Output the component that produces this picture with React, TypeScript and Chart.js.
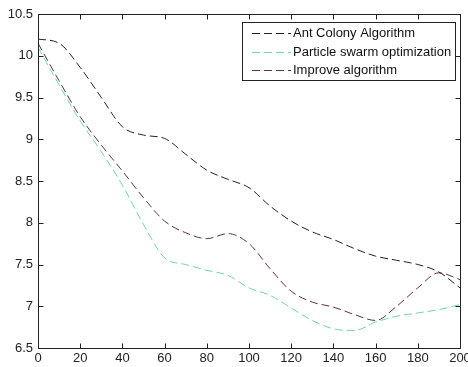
import React, { useEffect, useRef } from "react";
import { Chart, registerables } from "chart.js";

Chart.register(...registerables);

const xValues = [0, 10, 20, 30, 40, 50, 60, 70, 80, 90, 100, 110, 120, 130, 140, 150, 160, 170, 180, 190, 200];
const antColony = [10.2, 10.15, 9.86, 9.5, 9.15, 9.05, 9.01, 8.82, 8.63, 8.52, 8.42, 8.2, 8.02, 7.89, 7.8, 7.69, 7.6, 7.55, 7.5, 7.41, 7.22];
const pso = [10.1, 9.65, 9.22, 8.85, 8.45, 7.98, 7.58, 7.5, 7.43, 7.37, 7.22, 7.13, 6.98, 6.83, 6.73, 6.71, 6.81, 6.88, 6.92, 6.96, 7.02];
const improve = [10.15, 9.7, 9.27, 8.93, 8.62, 8.3, 8.02, 7.88, 7.81, 7.87, 7.75, 7.45, 7.18, 7.05, 6.99, 6.9, 6.83, 7.0, 7.22, 7.4, 7.32];
const seriesLabels = ["Ant Colony Algorithm", "Particle swarm optimization", "Improve algorithm"];
const seriesColors = ["#222222", "#6fd89a", "#603040"];
const xTickStep = 20;
const yTickStep = 0.5;

const FONT = "'Liberation Sans', Arial, Helvetica, sans-serif";

const frameTicks = {
  id: "frameTicks",
  afterDraw(chart: any) {
    const { ctx, chartArea } = chart;
    const { left, right, top, bottom } = chartArea;
    const xs = chart.scales.x;
    const ys = chart.scales.y;
    ctx.save();
    ctx.strokeStyle = "#222";
    ctx.lineWidth = 1;
    ctx.setLineDash([]);
    ctx.beginPath();
    const L = Math.round(left) + 0.5, R = Math.round(right) + 0.5, T = Math.round(top) + 0.5, B = Math.round(bottom) + 0.5;
    ctx.rect(L, T, R - L, B - T);
    const tl = 5;
    xs.ticks.forEach((t: any) => {
      const px = Math.round(xs.getPixelForValue(t.value)) + 0.5;
      ctx.moveTo(px, B); ctx.lineTo(px, B - tl);
      ctx.moveTo(px, T); ctx.lineTo(px, T + tl);
    });
    ys.ticks.forEach((t: any) => {
      const py = Math.round(ys.getPixelForValue(t.value)) + 0.5;
      ctx.moveTo(L, py); ctx.lineTo(L + tl, py);
      ctx.moveTo(R, py); ctx.lineTo(R - tl, py);
    });
    ctx.stroke();

    // legend box
    const bx = 242.5, by = 22.5, bw = 213, bh = 58;
    ctx.fillStyle = "#fff";
    ctx.fillRect(bx, by, bw, bh);
    ctx.strokeStyle = "#222";
    ctx.strokeRect(bx, by, bw, bh);
    const rowsY = [33, 51.5, 70];
    ctx.font = `13px ${FONT}`;
    ctx.textBaseline = "middle";
    ctx.textAlign = "left";
    chart.data.datasets.forEach((ds: any, i: number) => {
      const y = Math.round(rowsY[i]) + 0.5;
      ctx.strokeStyle = ds.borderColor;
      ctx.setLineDash([8, 4]);
      ctx.beginPath();
      ctx.moveTo(252, y);
      ctx.lineTo(291, y);
      ctx.stroke();
      ctx.setLineDash([]);
      ctx.fillStyle = "#111";
      ctx.fillText(ds.label, 293, rowsY[i] + 0.5);
    });
    ctx.restore();
  },
};

const fmt = (v: any) => String(Number(v));

export default function App() {
  const ref = useRef<HTMLCanvasElement | null>(null);
  useEffect(() => {
    if (!ref.current) return;
    const mk = (vals: number[]) => xValues.map((x, i) => ({ x, y: vals[i] }));
    const all = [antColony, pso, improve];
    const chart = new Chart(ref.current, {
      type: "line",
      data: {
        datasets: all.map((vals, i) => ({
          label: seriesLabels[i],
          data: mk(vals),
          borderColor: seriesColors[i],
          backgroundColor: seriesColors[i],
          borderWidth: 1,
          borderDash: [8, 4],
          pointRadius: 0,
          fill: false,
          cubicInterpolationMode: "monotone" as const,
        })),
      },
      options: {
        responsive: false,
        animation: false,
        layout: { padding: { top: 14, right: 8, left: 0, bottom: 0 } },
        plugins: { legend: { display: false }, tooltip: { enabled: false } },
        scales: {
          x: {
            type: "linear",
            min: 0,
            max: 200,
            grid: { display: false, drawTicks: false },
            border: { display: false },
            ticks: {
              stepSize: xTickStep,
              autoSkip: false,
              maxRotation: 0,
              padding: 3,
              color: "#222",
              font: { family: FONT, size: 13 },
              callback: fmt,
            },
            afterFit(scale: any) {
              scale.height = 19;
              scale.paddingLeft = 0;
              scale.paddingRight = 0;
            },
          },
          y: {
            type: "linear",
            min: 6.5,
            max: 10.5,
            grid: { display: false, drawTicks: false },
            border: { display: false },
            ticks: {
              stepSize: yTickStep,
              autoSkip: false,
              padding: 5,
              color: "#222",
              font: { family: FONT, size: 13 },
              callback: fmt,
            },
            afterFit(scale: any) {
              scale.width = 38;
              scale.paddingTop = 0;
              scale.paddingBottom = 0;
            },
          },
        },
      },
      plugins: [frameTicks],
    });
    return () => chart.destroy();
  }, []);
  return (
    <div style={{ position: "fixed", left: 0, top: 0, width: 468, height: 367, background: "#fff" }}>
      <canvas ref={ref} width={468} height={367} style={{ display: "block" }} />
    </div>
  );
}
